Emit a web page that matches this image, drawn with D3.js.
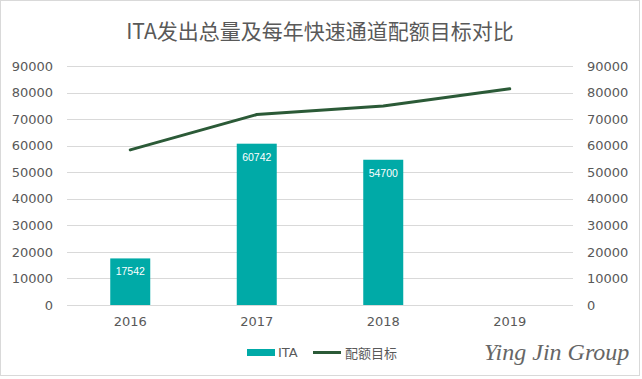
<!DOCTYPE html>
<html><head><meta charset="utf-8">
<script src="https://cdn.jsdelivr.net/npm/d3@7"></script>
<style>body{margin:0;background:#fff}svg{display:block}text{font-family:"Noto Sans CJK SC","DejaVu Sans",sans-serif}</style>
</head><body><svg id="c" width="642" height="379"></svg>
<script>
const years = ["2016","2017","2018","2019"];
const itaValues = [17542, 60742, 54700, null];
const targetValues = [58400, 71700, 74900, 81400];
const yTicks = [0,10000,20000,30000,40000,50000,60000,70000,80000,90000];
const title = "ITA发出总量及每年快速通道配额目标对比";
const seriesNames = ["ITA","配额目标"];

const svg = d3.select("#c");
const W=642,H=379;
svg.append("rect").attr("x",0.5).attr("y",0.5).attr("width",W-3).attr("height",H-4).attr("fill","#fff").attr("stroke","#d9d9d9");
const x = d3.scaleBand().domain(years).range([67,573]).paddingInner(0).paddingOuter(0);
const y = d3.scaleLinear().domain([0,90000]).range([305,66]);
const barW = 40;
const txt="#595959";

svg.append("text").attr("x",320).attr("y",39).attr("text-anchor","middle").attr("font-size",21).attr("fill",txt).text(title);

const grid = svg.append("g");
grid.selectAll("line").data(yTicks).join("line")
 .attr("x1",67).attr("x2",573).attr("y1",d=>Math.round(y(d))+0.5).attr("y2",d=>Math.round(y(d))+0.5)
 .attr("stroke","#d9d9d9").attr("stroke-width",1);

const fmt = d3.format("d");
const la = svg.append("g").attr("transform","translate(53,0)").call(d3.axisLeft(y).tickValues(yTicks).tickFormat(fmt).tickSize(0).tickPadding(0));
const ra = svg.append("g").attr("transform","translate(587,0)").call(d3.axisRight(y).tickValues(yTicks).tickFormat(fmt).tickSize(0).tickPadding(0));
const xa = svg.append("g").attr("transform","translate(0,305)").call(d3.axisBottom(x).tickSize(0).tickPadding(12));
[la,ra,xa].forEach(a=>{a.select(".domain").remove();a.selectAll("text").attr("font-size",13).attr("fill",txt).style("font-family","'DejaVu Sans',sans-serif");});

const bars = years.map((yr,i)=>({yr,v:itaValues[i]})).filter(d=>d.v!=null);
svg.append("g").selectAll("rect").data(bars).join("rect")
 .attr("x",d=>x(d.yr)+x.bandwidth()/2-barW/2).attr("width",barW)
 .attr("y",d=>y(d.v)).attr("height",d=>y(0)-y(d.v)).attr("fill","#00aaa7");
svg.append("g").selectAll("text").data(bars).join("text")
 .attr("x",d=>x(d.yr)+x.bandwidth()/2).attr("y",d=>y(d.v)+17)
 .attr("text-anchor","middle").attr("font-size",10.5).attr("fill","#fff").style("font-family","'Liberation Sans',sans-serif").text(d=>fmt(d.v));

const line = d3.line().x((d,i)=>x(years[i])+x.bandwidth()/2).y(d=>y(d));
svg.append("path").datum(targetValues).attr("d",line).attr("fill","none").attr("stroke","#2b5a37").attr("stroke-width",3).attr("stroke-linecap","round");

// legend
const lg = svg.append("g");
lg.append("rect").attr("x",247).attr("y",349).attr("width",28).attr("height",7).attr("fill","#00aaa7");
lg.append("text").attr("x",278).attr("y",357).attr("font-size",13).attr("fill",txt).style("font-family","'DejaVu Sans',sans-serif").text(seriesNames[0]);
lg.append("line").attr("x1",313).attr("x2",341).attr("y1",352.5).attr("y2",352.5).attr("stroke","#2b5a37").attr("stroke-width",3);
lg.append("text").attr("x",345).attr("y",358).attr("font-size",13).attr("fill",txt).text(seriesNames[1]);

svg.append("text").attr("x",484).attr("y",360).attr("font-size",24).attr("font-style","italic").attr("fill","#666")
 .style("font-family","'Liberation Serif','DejaVu Serif',serif").text("Ying Jin Group");
</script></body></html>
